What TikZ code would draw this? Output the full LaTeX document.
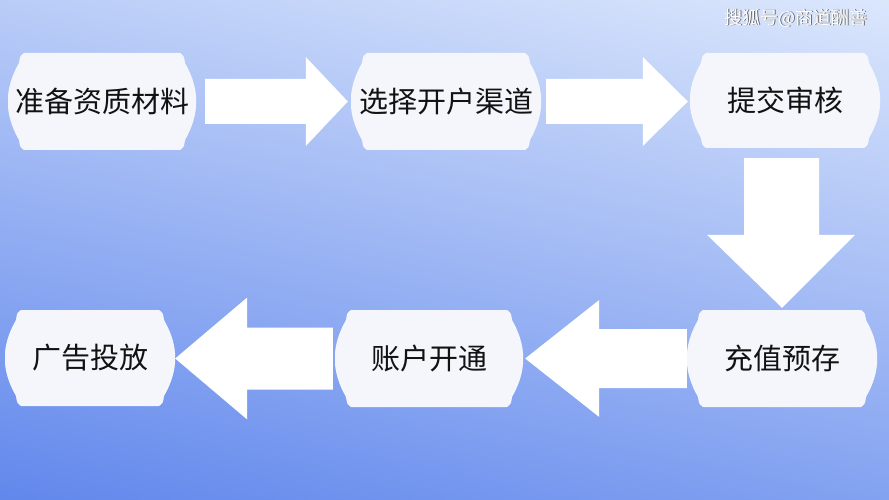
\documentclass[tikz,border=0pt]{standalone}
\usepackage{fontspec}
\setmainfont{Noto Sans CJK SC}
\usetikzlibrary{calc}
\definecolor{bgtop}{RGB}{218,230,252}
\definecolor{bgbot}{RGB}{98,136,236}
\definecolor{boxfill}{RGB}{244,246,252}
\definecolor{txt}{RGB}{18,18,18}
\tikzset{
  plaque/.style 2 args={rectangle, inner sep=0pt, minimum width=#1pt, minimum height=#2pt,
    font=\fontsize{29}{32}\selectfont, text=txt,
    path picture={\fill[boxfill] let \p1=(path picture bounding box.north east), \p2=(path picture bounding box.south west) in
      (\x2+16pt,\y1) -- (\x1-16pt,\y1) .. controls (\x1-12pt,\y1-3pt) .. (\x1-11pt,\y1-10pt)
      .. controls (\x1+4pt,\y1-36pt) and (\x1+4pt,\y2+36pt) .. (\x1-11pt,\y2+10pt)
      .. controls (\x1-12pt,\y2+3pt) .. (\x1-16pt,\y2) -- (\x2+16pt,\y2)
      .. controls (\x2+12pt,\y2+3pt) .. (\x2+11pt,\y2+10pt)
      .. controls (\x2-4pt,\y2+36pt) and (\x2-4pt,\y1-36pt) .. (\x2+11pt,\y1-10pt)
      .. controls (\x2+12pt,\y1-3pt) .. cycle;}},
  blockarrow/.style={fill=white},
  mark text/.style={font=\fontsize{18}{20}\selectfont}
}
\begin{document}
\begin{tikzpicture}[x=1pt,y=-1pt]
\useasboundingbox (0,0) rectangle (889,500);
\shade[top color=bgtop, bottom color=bgbot, shading angle=-12] (-50,-50) rectangle (939,550);

\node[mark text, text=black!60] (wmshadow) at (796.8,18.8) {搜狐号@商道酬善};
\node[mark text, text=white] (wm) at (796,18) {搜狐号@商道酬善};

\node[plaque={188}{97}] (b1) at (102,101.5) {准备资质材料};
\node[plaque={190}{97}] (b2) at (446,101.5) {选择开户渠道};
\node[plaque={190}{95}] (b3) at (785,100.5) {提交审核};
\node[plaque={190}{97}] (b4) at (782,358.5) {充值预存};
\node[plaque={188}{97}] (b5) at (429,358.5) {账户开通};
\node[plaque={170}{96}] (b6) at (90,358) {广告投放};

\fill[blockarrow] let \p1=(b1.east), \p2=(b2.west) in
  (\x1+9pt,\y1+22.5pt) -- (\x2-45pt,\y1+22.5pt) -- (\x2-45pt,\y1+44.5pt) -- (\x2-3pt,\y1)
  -- (\x2-45pt,\y1-44.5pt) -- (\x2-45pt,\y1-22.5pt) -- (\x1+9pt,\y1-22.5pt) -- cycle;
\fill[blockarrow] let \p1=(b2.east), \p2=(b3.west) in
  (\x1+5pt,\y1+22.5pt) -- (\x2-47pt,\y1+22.5pt) -- (\x2-47pt,\y1+44.5pt) -- (\x2-2pt,\y1)
  -- (\x2-47pt,\y1-44.5pt) -- (\x2-47pt,\y1-22.5pt) -- (\x1+5pt,\y1-22.5pt) -- cycle;
\fill[blockarrow] let \p1=(b3.south), \p2=(b4.north) in
  (\x2-38pt,\y1-10pt) -- (\x2+37pt,\y1-10pt) -- (\x2+37pt,\y2+75pt) -- (\x2+73pt,\y2+75pt)
  -- (\x2,\y2+2pt) -- (\x2-75pt,\y2+75pt) -- (\x2-38pt,\y2+75pt) -- cycle;
\fill[blockarrow] let \p1=(b4.west), \p2=(b5.east) in
  (\x1,\y1+29.5pt) -- (\x2+76pt,\y1+29.5pt) -- (\x2+76pt,\y1+58.5pt) -- (\x2+2pt,\y1)
  -- (\x2+76pt,\y1-58.5pt) -- (\x2+76pt,\y1-29.5pt) -- (\x1,\y1-29.5pt) -- cycle;
\fill[blockarrow] let \p1=(b5.west), \p2=(b6.east) in
  (\x1-2pt,\y1+31pt) -- (\x2+72pt,\y1+31pt) -- (\x2+72pt,\y1+61pt) -- (\x2,\y1)
  -- (\x2+72pt,\y1-61pt) -- (\x2+72pt,\y1-31pt) -- (\x1-2pt,\y1-31pt) -- cycle;
\end{tikzpicture}
\end{document}
